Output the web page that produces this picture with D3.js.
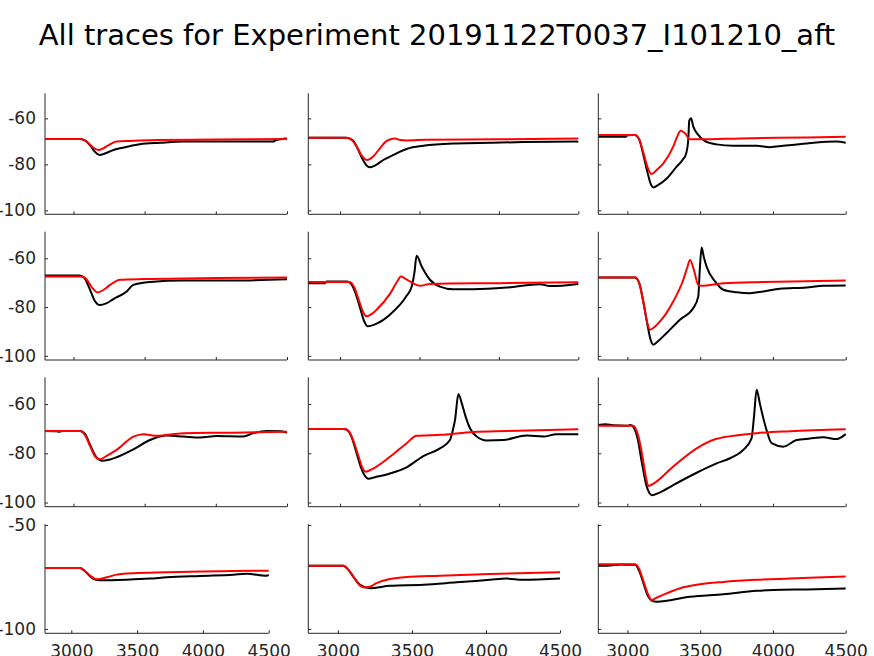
<!DOCTYPE html>
<html>
<head>
<meta charset="utf-8">
<script src="https://cdn.jsdelivr.net/npm/d3@7"></script>
<style>
  html, body { margin: 0; padding: 0; background: #fff; }
  svg { display: block; }
  text { font-family: "DejaVu Sans", sans-serif; }
</style>
</head>
<body>
<svg id="chart" width="874" height="656"></svg>
<script>
// ---- Data (time, voltage) ----
const xTicks = [3000, 3500, 4000, 4500];
const yTicksTop = [-100, -80, -60];
const yTicksBottom = [-100, -50];
const xDomain = [2800, 4500];

const r1c1Black = [[2800,-69],[3040,-69],[3080,-69.6],[3120,-72],[3150,-74.5],[3182,-75.9],[3220,-75.3],[3270,-74],[3327,-73],[3400,-72],[3467,-71.2],[3608,-70.6],[3772,-70.1],[4123,-70.1],[4404,-70.1],[4420,-69.5],[4475,-68.9],[4500,-68.8]];
const r1c1Red = [[2800,-69],[3046,-69],[3080,-69.6],[3110,-71],[3140,-72.8],[3175,-73.8],[3210,-73],[3250,-71.5],[3303,-70],[3400,-69.8],[3600,-69.4],[4000,-69.2],[4500,-69]];

const r1c2Black = [[2800,-68.4],[3040,-68.4],[3080,-69.5],[3110,-73],[3140,-77.5],[3165,-80.3],[3188,-81.3],[3220,-80.5],[3272,-78.1],[3356,-75.2],[3419,-73.3],[3524,-71.9],[3734,-70.9],[3944,-70.6],[4154,-70.3],[4489,-70.1],[4500,-70.2]];
const r1c2Red = [[2800,-68.4],[3041,-68.4],[3080,-69.8],[3110,-73],[3140,-76.5],[3171,-78.1],[3210,-76.5],[3251,-73],[3290,-70],[3314,-69.2],[3346,-68.8],[3380,-69.4],[3419,-69.6],[3545,-69.3],[4000,-69.1],[4500,-68.7]];

const r1c3Black = [[2800,-68],[2990,-68],[3000,-67.3],[3050,-67.2],[3080,-69],[3110,-76],[3140,-84],[3160,-88.5],[3178,-90],[3210,-89],[3270,-86.1],[3338,-81],[3380,-78],[3405,-75],[3418,-69.5],[3425,-61],[3437,-60],[3453,-63.6],[3487,-67.2],[3533,-69.9],[3613,-71.3],[3728,-71.9],[3888,-71.9],[3980,-72.5],[4071,-71.9],[4231,-70.9],[4438,-70.1],[4500,-70.6]];
const r1c3Red = [[2800,-67.2],[3052,-67.2],[3080,-69],[3110,-75],[3140,-81.5],[3166,-84.2],[3200,-82.5],[3247,-79.6],[3315,-72.3],[3345,-67.5],[3366,-65.4],[3396,-66.5],[3430,-69.1],[3499,-69.1],[3774,-68.7],[4231,-68.3],[4500,-68]];

const r2c1Black = [[2800,-67.1],[3040,-67.1],[3075,-68],[3110,-72],[3150,-77.5],[3186,-79.2],[3230,-78.5],[3280,-76.7],[3374,-73.6],[3420,-70.9],[3538,-69.7],[3772,-69.1],[4123,-69.1],[4500,-68.6]];
const r2c1Red = [[2800,-67.5],[3058,-67.5],[3090,-68.5],[3130,-72],[3170,-74],[3210,-73],[3257,-70.9],[3327,-68.8],[3500,-68.5],[4000,-68.1],[4500,-67.9]];

const r2c2Black = [[2800,-70.2],[2905,-70.2],[2915,-69.5],[3040,-69.5],[3062,-70],[3090,-73],[3120,-79],[3150,-85.5],[3174,-87.9],[3230,-86.8],[3314,-83.1],[3419,-75.4],[3451,-71.6],[3468,-66],[3482,-59],[3514,-63.4],[3566,-68.8],[3629,-71.6],[3713,-72.7],[3839,-72.7],[4049,-72],[4259,-70.6],[4322,-71.4],[4500,-70.5]];
const r2c2Red = [[2800,-69.7],[3062,-69.7],[3090,-72],[3120,-77.5],[3145,-82],[3167,-83.8],[3200,-82.8],[3230,-81.1],[3314,-74.6],[3360,-69.5],[3383,-67.5],[3410,-68.3],[3440,-69.5],[3470,-70.6],[3503,-71.3],[3566,-70.5],[4000,-70.2],[4500,-69.8]];

const r2c3Black = [[2800,-67.9],[3052,-67.9],[3080,-70],[3110,-78],[3140,-88],[3160,-93.5],[3178,-95.4],[3210,-94],[3270,-90.6],[3361,-85.2],[3453,-80.4],[3487,-75.6],[3497,-65],[3510,-55.6],[3525,-59.5],[3544,-63.4],[3602,-69.5],[3659,-72.9],[3751,-73.9],[3842,-74.3],[3934,-73.6],[4048,-72.5],[4231,-72],[4346,-71.3],[4500,-71.2]];
const r2c3Red = [[2800,-67.9],[3052,-67.9],[3080,-70],[3110,-78],[3135,-86],[3155,-89.3],[3190,-88],[3224,-85.9],[3315,-77.7],[3384,-68.8],[3410,-64],[3430,-60.7],[3457,-64.8],[3487,-70.9],[3510,-71.3],[3659,-70.2],[3934,-69.7],[4500,-69.1]];

const r3c1Black = [[2800,-70.9],[2880,-71],[2900,-71.2],[2930,-70.9],[3046,-70.9],[3080,-72],[3120,-77],[3160,-81.5],[3198,-83],[3250,-82.6],[3303,-81.6],[3421,-78.4],[3538,-74.6],[3655,-72.8],[3772,-73.2],[3889,-73.6],[4006,-73],[4193,-73.2],[4264,-71.8],[4357,-70.9],[4460,-71],[4500,-71.6]];
const r3c1Red = [[2800,-70.9],[3046,-70.9],[3080,-72.5],[3120,-77.5],[3155,-81.5],[3186,-82.4],[3240,-80.8],[3303,-78.6],[3421,-73.2],[3491,-72.2],[3585,-72.9],[3772,-71.8],[4123,-71.6],[4500,-71.2]];

const r3c2Black = [[2800,-70.1],[3020,-70.1],[3040,-70.3],[3070,-73],[3100,-79],[3130,-85.5],[3155,-89],[3178,-90.3],[3220,-89.7],[3314,-88.2],[3419,-85.7],[3524,-81.1],[3629,-78],[3692,-74.6],[3712,-70],[3724,-66.4],[3745,-55.9],[3766,-59.6],[3790,-65],[3818,-69.8],[3860,-73.2],[3923,-74.8],[4028,-74.6],[4175,-72.8],[4280,-73.2],[4364,-72.2],[4500,-72.2]];
const r3c2Red = [[2800,-70.1],[3031,-70.1],[3060,-71.5],[3090,-76],[3120,-82],[3145,-86.5],[3163,-87.5],[3200,-86.5],[3314,-81.4],[3419,-75.9],[3482,-72.9],[3524,-72.8],[3629,-72.5],[3839,-71.3],[4049,-70.9],[4500,-70.2]];

const r3c3Black = [[2800,-68.5],[2850,-68.2],[2900,-68.6],[3000,-68.8],[3020,-68.5],[3040,-69.2],[3070,-74],[3100,-84],[3130,-93],[3150,-96],[3167,-97],[3220,-96],[3315,-92.9],[3476,-87.9],[3613,-84.1],[3705,-82],[3796,-78.6],[3853,-73.9],[3870,-65],[3888,-54.2],[3911,-60],[3935,-66],[3956,-70.5],[3991,-75.9],[4071,-77.3],[4163,-74.6],[4254,-74],[4346,-73.5],[4438,-74.2],[4500,-72.2]];
const r3c3Red = [[2800,-68.8],[3040,-68.8],[3070,-72],[3100,-80],[3125,-89],[3144,-93.3],[3180,-92.3],[3315,-85.4],[3476,-78],[3613,-74.1],[3659,-73.5],[3888,-71.8],[4117,-71],[4500,-70.2]];

const r4c1Black = [[2800,-70.7],[3066,-70.7],[3100,-72],[3140,-74.5],[3170,-76],[3218,-76.6],[3421,-76.3],[3598,-75.8],[3725,-75.2],[3978,-74.5],[4231,-73.9],[4334,-73.5],[4484,-74.4],[4500,-74]];
const r4c1Red = [[2800,-70.7],[3066,-70.7],[3100,-72],[3140,-74.2],[3193,-76.1],[3269,-75.2],[3345,-73.9],[3471,-73.2],[3725,-72.8],[3978,-72.4],[4231,-72.1],[4500,-72]];

const r4c2Black = [[2800,-69.6],[3036,-69.6],[3070,-71.5],[3110,-75.5],[3150,-78.8],[3216,-80.4],[3352,-79.3],[3577,-78.8],[3802,-77.6],[4027,-76.4],[4139,-75.8],[4250,-76.4],[4500,-75.8]];
const r4c2Red = [[2800,-69.6],[3036,-69.6],[3070,-71.5],[3110,-75.5],[3150,-79.2],[3183,-80.1],[3220,-79.6],[3261,-78],[3352,-76],[3464,-75],[3689,-74.4],[4025,-73.6],[4500,-72.8]];

const r4c3Black = [[2800,-69.6],[2860,-69.6],[2960,-69],[3000,-69.2],[3052,-69.2],[3080,-72],[3110,-78],[3140,-84],[3170,-86.5],[3201,-86.9],[3430,-84.5],[3659,-83.3],[3888,-81.7],[4002,-81.3],[4231,-81],[4500,-80.6]];
const r4c3Red = [[2800,-68.9],[3052,-68.9],[3080,-71],[3110,-77],[3140,-83],[3166,-86.1],[3200,-85],[3270,-82.9],[3384,-80],[3499,-78.5],[3659,-77.4],[3888,-76.4],[4117,-75.8],[4500,-74.8]];

const titleText = "All traces for Experiment 20191122T0037_I101210_aft";

// ---- Layout ----
const colBoxes = [[45, 287], [308.3, 578.3], [598.3, 845.7]];
const colBoxesBottom = [[45, 268.7], [308.3, 560], [598.3, 845.7]];
const rowBoxes = [[93.3, 214.3], [231.7, 360], [377.3, 506.7], [524.3, 633.3]];
const yDomainTop = [-101.7, -49.1];
const yDomainBottom = [-102.1, -49.7];

const traces = [
  [r1c1Black, r1c1Red], [r1c2Black, r1c2Red], [r1c3Black, r1c3Red],
  [r2c1Black, r2c1Red], [r2c2Black, r2c2Red], [r2c3Black, r2c3Red],
  [r3c1Black, r3c1Red], [r3c2Black, r3c2Red], [r3c3Black, r3c3Red],
  [r4c1Black, r4c1Red], [r4c2Black, r4c2Red], [r4c3Black, r4c3Red]
];

const svg = d3.select("#chart");
const axisColor = "#262626";
const fmt = d => String(d); // plain hyphen-minus like the reference

svg.append("text")
  .attr("x", 437).attr("y", 45)
  .attr("text-anchor", "middle")
  .attr("font-size", 29)
  .attr("fill", "#000")
  .text(titleText);

for (let r = 0; r < 4; r++) {
  for (let c = 0; c < 3; c++) {
    const bottom = r === 3;
    const [x0, x1] = bottom ? colBoxesBottom[c] : colBoxes[c];
    const [y0, y1] = rowBoxes[r];
    const x = d3.scaleLinear().domain(xDomain).range([x0, x1]);
    const y = d3.scaleLinear().domain(bottom ? yDomainBottom : yDomainTop).range([y1, y0]);
    const g = svg.append("g");

    const [blk, red] = traces[r * 3 + c];
    const line = d3.line().x(d => x(d[0])).y(d => y(d[1])).curve(d3.curveMonotoneX);
    g.append("path").datum(blk).attr("d", line)
      .attr("fill", "none").attr("stroke", "#000").attr("stroke-width", 2);
    g.append("path").datum(red).attr("d", line)
      .attr("fill", "none").attr("stroke", "#ff0000").attr("stroke-width", 2);

    const xa = g.append("g").attr("transform", `translate(0,${y1})`)
      .call(d3.axisBottom(x).tickValues(xTicks).tickSizeInner(-3).tickSizeOuter(0)
        .tickFormat(bottom ? fmt : () => ""));
    const ya = g.append("g").attr("transform", `translate(${x0},0)`)
      .call(d3.axisLeft(y).tickValues(bottom ? yTicksBottom : yTicksTop).tickSizeInner(-3).tickSizeOuter(0)
        .tickFormat(c === 0 ? fmt : () => ""));
    [xa, ya].forEach(a => {
      a.select(".domain").attr("stroke", axisColor).attr("stroke-width", 1);
      a.selectAll(".tick line").attr("stroke", axisColor);
      a.selectAll(".tick text").attr("fill", axisColor).attr("font-size", 17)
        .attr("font-family", "DejaVu Sans, sans-serif");
    });
    ya.selectAll(".tick text").attr("x", -9);
    xa.selectAll(".tick text").attr("y", 12);
    xa.select(".domain").attr("d", `M${x0},0H${x1}`);
    ya.select(".domain").attr("d", `M0,${y1}V${y0}`);
  }
}
</script>
</body>
</html>
